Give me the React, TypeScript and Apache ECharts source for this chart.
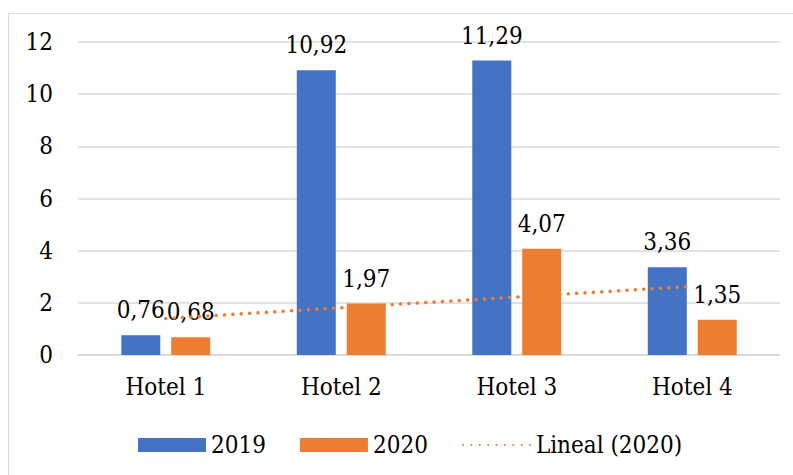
import React, { useEffect, useRef } from "react";
import * as echarts from "echarts";

const categories = ["Hotel 1", "Hotel 2", "Hotel 3", "Hotel 4"];
const values2019 = [0.76, 10.92, 11.29, 3.36];
const values2020 = [0.68, 1.97, 4.07, 1.35];
const yTicks = { min: 0, max: 12, interval: 2 };

function linearTrend(ys: number[]): number[] {
  const n = ys.length;
  const xs = ys.map((_, i) => i + 1);
  const mx = xs.reduce((a, b) => a + b, 0) / n;
  const my = ys.reduce((a, b) => a + b, 0) / n;
  let num = 0;
  let den = 0;
  for (let i = 0; i < n; i++) {
    num += (xs[i] - mx) * (ys[i] - my);
    den += (xs[i] - mx) * (xs[i] - mx);
  }
  const slope = num / den;
  return xs.map((x) => my + slope * (x - mx));
}

const FONT = "DejaVu Serif Condensed, DejaVu Serif, serif";
const FS = 24;
const fmt = (v: number) => v.toFixed(2).replace(".", ",");

export default function App() {
  const ref = useRef<HTMLDivElement>(null);
  useEffect(() => {
    document.body.style.margin = "0";
    if (!ref.current) return;
    const chart = echarts.init(ref.current, undefined, { renderer: "svg" });
    const trend = linearTrend(values2020);
    const labelCommon = {
      show: true,
      position: "top" as const,
      distance: 13,
      color: "#000",
      fontFamily: FONT,
      fontSize: FS,
      formatter: (p: any) => fmt(p.value),
    };
    chart.setOption({
      animation: false,
      textStyle: { fontFamily: FONT },
      graphic: [
        {
          type: "rect",
          shape: { x: 8.5, y: 13.5, width: 800, height: 500 },
          style: { fill: "none", stroke: "#d9d9d9", lineWidth: 1 },
          silent: true,
        },
      ],
      grid: { left: 78, right: 13, top: 42, bottom: 120 },
      legend: {
        left: 133,
        top: 428,
        itemWidth: 68,
        itemHeight: 14,
        itemGap: 34,
        textStyle: { fontFamily: FONT, fontSize: FS, color: "#000" },
        data: [
          { name: "2019", icon: "rect" },
          { name: "2020", icon: "rect" },
          { name: "Lineal (2020)", itemStyle: { opacity: 0 } },
        ],
      },
      xAxis: {
        type: "category",
        data: categories,
        axisLine: { lineStyle: { color: "#d9d9d9", width: 1.5 } },
        axisTick: { show: false },
        axisLabel: { color: "#000", fontFamily: FONT, fontSize: FS, margin: 20 },
      },
      yAxis: {
        type: "value",
        min: yTicks.min,
        max: yTicks.max,
        interval: yTicks.interval,
        axisLine: { show: false },
        axisTick: { show: false },
        splitLine: { lineStyle: { color: "#d9d9d9", width: 1.5 } },
        axisLabel: { color: "#000", fontFamily: FONT, fontSize: FS, margin: 25 },
      },
      series: [
        {
          name: "2019",
          type: "bar",
          data: values2019,
          barWidth: 39,
          barGap: "28%",
          itemStyle: { color: "#4472C4" },
          label: labelCommon,
        },
        {
          name: "2020",
          type: "bar",
          data: values2020,
          barWidth: 39,
          barGap: "28%",
          itemStyle: { color: "#ED7D31" },
          label: labelCommon,
        },
        {
          name: "Lineal (2020)",
          type: "line",
          data: trend,
          symbol: "none",
          z: 5,
          itemStyle: { color: "#ED7D31" },
          lineStyle: { color: "#ED7D31", width: 3.5, type: [0.1, 8.3], cap: "round" },
        },
      ],
    });
    return () => chart.dispose();
  }, []);
  return <div ref={ref} style={{ width: 793, height: 475 }} />;
}
